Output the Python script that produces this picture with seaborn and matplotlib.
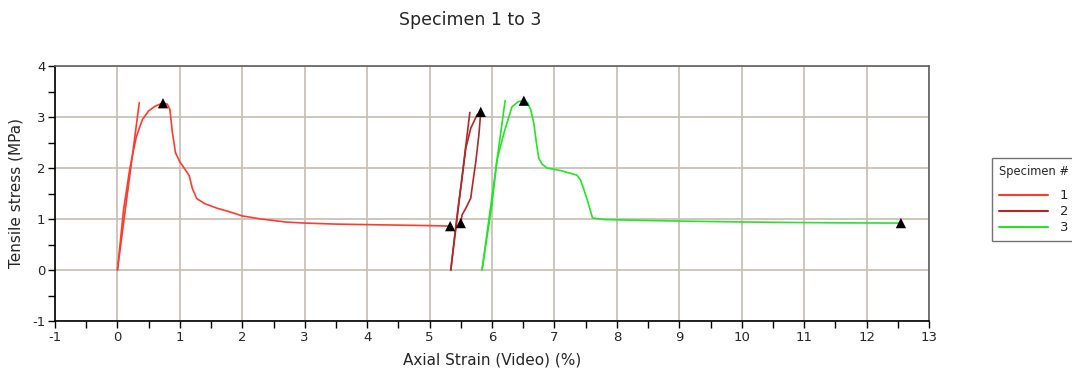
import numpy as np
import pandas as pd
import matplotlib
matplotlib.use("Agg")
import matplotlib.pyplot as plt
import seaborn as sns
from matplotlib.lines import Line2D
from matplotlib.ticker import MultipleLocator

# Specimen curves (strain %, stress MPa)
s1_x = [0.0, 0.05, 0.1, 0.2, 0.3, 0.4, 0.5, 0.6, 0.7, 0.75, 0.8, 0.84, 0.88, 0.93, 1.0, 1.08, 1.15, 1.2, 1.27, 1.4, 1.6, 1.8, 2.0, 2.3, 2.7, 3.0, 3.5, 4.0, 4.5, 5.0, 5.35]
s1_y = [0.0, 0.6, 1.2, 2.0, 2.6, 2.95, 3.12, 3.21, 3.26, 3.27, 3.25, 3.15, 2.7, 2.3, 2.12, 1.98, 1.85, 1.6, 1.4, 1.3, 1.21, 1.14, 1.06, 1.0, 0.94, 0.92, 0.9, 0.89, 0.88, 0.87, 0.86]
s1_mod_x = [0.0, 0.35]
s1_mod_y = [0.0, 3.28]
s1_mark_x = [0.73, 5.33]
s1_mark_y = [3.27, 0.86]

s2_x = [5.34, 5.40, 5.46, 5.52, 5.58, 5.66, 5.76, 5.82, 5.79, 5.74, 5.68, 5.66, 5.58, 5.52, 5.50]
s2_y = [0.0, 0.65, 1.25, 1.80, 2.39, 2.78, 3.04, 3.10, 2.65, 2.12, 1.60, 1.41, 1.21, 1.08, 0.92]
s2_mod_x = [5.34, 5.645]
s2_mod_y = [0.0, 3.09]
s2_mark_x = [5.82, 5.5]
s2_mark_y = [3.10, 0.92]

s3_x = [5.84, 5.92, 6.0, 6.08, 6.19, 6.32, 6.42, 6.51, 6.57, 6.62, 6.67, 6.71, 6.75, 6.8, 6.88, 7.1, 7.36, 7.42, 7.52, 7.61, 7.8, 8.5, 9.5, 10.5, 11.5, 12.55]
s3_y = [0.0, 0.65, 1.3, 2.16, 2.68, 3.2, 3.3, 3.32, 3.28, 3.14, 2.88, 2.5, 2.19, 2.08, 2.0, 1.95, 1.86, 1.76, 1.4, 1.02, 0.99, 0.97, 0.95, 0.935, 0.925, 0.92]
s3_mod_x = [5.84, 6.21]
s3_mod_y = [0.0, 3.32]
s3_mark_x = [6.51, 12.55]
s3_mark_y = [3.32, 0.92]

labels = ["1", "2", "3"]
colors = ["#FF3B2F", "#B02828", "#22E622"]

sns.set_style("white")
plt.rcParams['font.family'] = ['DejaVu Sans']
plt.rcParams['axes.unicode_minus'] = False

fig = plt.figure(figsize=(10.72, 3.78), dpi=100)
ax = fig.add_axes([55/1072, 1-321/378, (929-55)/1072, (321-66)/378])

curves = [(s1_x, s1_y, s1_mod_x, s1_mod_y, s1_mark_x, s1_mark_y),
          (s2_x, s2_y, s2_mod_x, s2_mod_y, s2_mark_x, s2_mark_y),
          (s3_x, s3_y, s3_mod_x, s3_mod_y, s3_mark_x, s3_mark_y)]

for (cx, cy, mx, my, kx, ky), col in zip(curves, colors):
    sns.lineplot(x=cx, y=cy, sort=False, estimator=None, color=col, lw=1.2, ax=ax, zorder=3)
    sns.lineplot(x=mx, y=my, sort=False, estimator=None, color=col, lw=1.2, ax=ax, zorder=3)
for (cx, cy, mx, my, kx, ky) in curves:
    sns.scatterplot(x=kx, y=ky, marker="^", color="black", s=55, edgecolor="none", ax=ax, zorder=4)

ax.set_xlim(-1, 13)
ax.set_ylim(-1, 4)
ax.xaxis.set_major_locator(MultipleLocator(1))
ax.xaxis.set_minor_locator(MultipleLocator(0.5))
ax.yaxis.set_major_locator(MultipleLocator(1))
ax.yaxis.set_minor_locator(MultipleLocator(0.5))
ax.grid(True, which="major", color="#C8C2B8", lw=1.3, zorder=0)
ax.set_axisbelow(True)
ax.tick_params(which="major", direction="out", length=5, width=1, color="black", labelsize=9.5, left=True, bottom=True, pad=2)
ax.tick_params(which="minor", direction="out", length=5, width=1, color="black", left=True, bottom=True)
for side in ["left", "bottom"]:
    ax.spines[side].set_color("black")
    ax.spines[side].set_linewidth(1.2)
for side in ["top", "right"]:
    ax.spines[side].set_color("#606060")
    ax.spines[side].set_linewidth(1.2)

ax.set_xlabel("Axial Strain (Video) (%)", fontsize=11, labelpad=6)
ax.set_ylabel("Tensile stress (MPa)", fontsize=11, labelpad=6)
fig.text(470/1072, 1-20/378, "Specimen 1 to 3", ha="center", va="center", fontsize=12.5)

handles = [Line2D([0], [0], color=c, lw=1.5) for c in colors]
leg = ax.legend(handles, labels, title="Specimen #", loc="upper left",
                bbox_to_anchor=(992/1072, 1-158/378), bbox_transform=fig.transFigure,
                frameon=True, fancybox=False, edgecolor="#505050", fontsize=9.5,
                title_fontsize=8.3, handlelength=3.7, handletextpad=0.9,
                labelspacing=0.22, borderpad=0.55, borderaxespad=0)
leg.get_frame().set_linewidth(1.0)
leg._legend_box.align = "left"
leg._legend_box.sep = 8

fig.savefig("out.png", dpi=100)
